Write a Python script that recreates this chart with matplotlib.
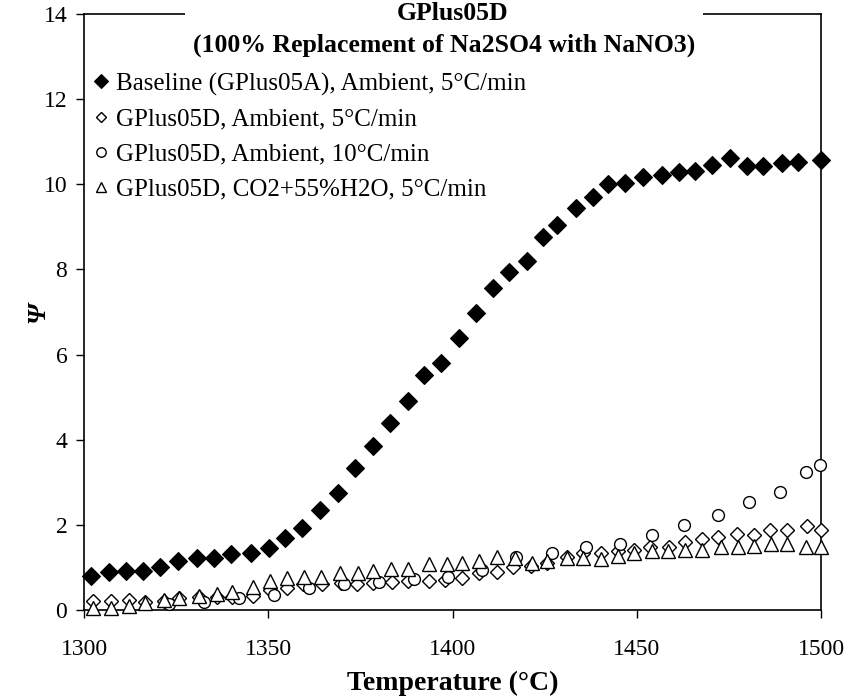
import matplotlib
matplotlib.use("Agg")
import matplotlib.pyplot as plt
from matplotlib.patches import Rectangle

plt.rcParams['font.family'] = ['Liberation Serif', 'DejaVu Serif']

# ---- data ----
base_T = [1301.8, 1306.9, 1311.4, 1316.1, 1320.6, 1325.6, 1330.6, 1335.3, 1339.8, 1345.2,
          1350.1, 1354.6, 1359.1, 1364.0, 1369.0, 1373.5, 1378.5, 1383.0, 1387.8, 1392.4,
          1396.9, 1401.8, 1406.4, 1410.9, 1415.2, 1420.2, 1424.5, 1428.4, 1433.5, 1438.0,
          1442.3, 1446.8, 1451.8, 1456.9, 1461.5, 1465.8, 1470.3, 1475.3, 1479.8, 1484.3,
          1489.3, 1493.8, 1499.9]
base_psi = [0.79, 0.89, 0.91, 0.92, 1.01, 1.14, 1.23, 1.23, 1.32, 1.34,
            1.46, 1.69, 1.93, 2.36, 2.75, 3.34, 3.85, 4.39, 4.90, 5.53,
            5.81, 6.39, 6.98, 7.57, 7.95, 8.19, 8.76, 9.05, 9.44, 9.71,
            10.00, 10.03, 10.18, 10.22, 10.30, 10.32, 10.46, 10.61, 10.43, 10.43,
            10.50, 10.52, 10.56]

d5_T = [1302.4, 1307.4, 1312.1, 1316.6, 1321.6, 1325.7, 1331.1, 1336.1, 1340.2, 1345.8,
        1350.6, 1355.0, 1359.5, 1364.5, 1369.7, 1374.0, 1378.5, 1383.5, 1388.0, 1393.5,
        1398.0, 1402.5, 1407.3, 1412.2, 1416.5, 1421.2, 1425.6, 1431.0, 1435.5, 1440.2,
        1445.0, 1449.3, 1453.6, 1458.8, 1463.1, 1467.6, 1472.1, 1477.1, 1481.9, 1486.2,
        1490.7, 1496.1, 1499.9]
d5_psi = [0.22, 0.22, 0.23, 0.18, 0.22, 0.29, 0.30, 0.31, 0.31, 0.33,
          0.47, 0.52, 0.60, 0.60, 0.63, 0.60, 0.63, 0.66, 0.68, 0.68,
          0.70, 0.74, 0.86, 0.90, 1.00, 1.03, 1.11, 1.24, 1.33, 1.33,
          1.39, 1.42, 1.49, 1.49, 1.60, 1.66, 1.72, 1.78, 1.76, 1.88,
          1.88, 1.97, 1.88]

d10_T = [1323.2, 1332.7, 1342.1, 1351.6, 1361.1, 1370.6, 1380.1, 1389.6, 1398.9, 1408.0,
         1417.3, 1427.0, 1436.3, 1445.4, 1454.2, 1462.9, 1472.0, 1480.5, 1488.9, 1495.8,
         1499.7]
d10_psi = [0.13, 0.19, 0.28, 0.36, 0.52, 0.60, 0.65, 0.73, 0.78, 0.95,
           1.24, 1.33, 1.47, 1.55, 1.76, 2.00, 2.23, 2.54, 2.77, 3.24,
           3.40]

co2_T = [1302.4, 1307.4, 1312.1, 1316.6, 1321.6, 1325.7, 1331.1, 1336.1, 1340.2, 1345.8,
         1350.6, 1355.0, 1359.8, 1364.3, 1369.5, 1374.3, 1378.5, 1383.3, 1388.0, 1393.5,
         1398.4, 1402.7, 1407.3, 1412.2, 1417.0, 1421.5, 1425.6, 1431.0, 1435.5, 1440.2,
         1445.0, 1449.3, 1454.2, 1458.6, 1463.1, 1467.8, 1472.9, 1477.4, 1481.9, 1486.4,
         1490.7, 1495.8, 1499.9]
co2_psi = [0.04, 0.04, 0.09, 0.16, 0.23, 0.29, 0.34, 0.37, 0.42, 0.53,
           0.69, 0.76, 0.78, 0.78, 0.86, 0.86, 0.92, 0.96, 0.96, 1.07,
           1.07, 1.11, 1.16, 1.24, 1.21, 1.11, 1.16, 1.21, 1.21, 1.19,
           1.27, 1.33, 1.39, 1.39, 1.41, 1.41, 1.47, 1.49, 1.50, 1.55,
           1.56, 1.49, 1.49]

labels = ["Baseline (GPlus05A), Ambient, 5\u00b0C/min",
          "GPlus05D, Ambient, 5\u00b0C/min",
          "GPlus05D, Ambient, 10\u00b0C/min",
          "GPlus05D, CO2+55%H2O, 5\u00b0C/min"]
title_lines = ["GPlus05D", "(100% Replacement of Na2SO4 with NaNO3)"]
x_ticks = [1300, 1350, 1400, 1450, 1500]
y_ticks = [0, 2, 4, 6, 8, 10, 12, 14]

# ---- figure ----
fig = plt.figure(figsize=(8.5, 7.0), dpi=100)
ax = fig.add_axes([84 / 850, 90 / 700, 737 / 850, 596 / 700])

ax.plot(base_T, base_psi, linestyle='none', marker='D', ms=9.5, mfc='black', mec='black',
        mew=0.8, label=labels[0], clip_on=False, zorder=3)
ax.plot(d5_T, d5_psi, linestyle='none', marker='D', ms=7, mfc='white', mec='black',
        mew=1.0, label=labels[1], clip_on=False, zorder=4)
ax.plot(d10_T, d10_psi, linestyle='none', marker='o', ms=8.5, mfc='white', mec='black',
        mew=1.0, label=labels[2], clip_on=False, zorder=5)
ax.plot(co2_T, co2_psi, linestyle='none', marker='^', ms=9.5, mfc='white', mec='black',
        mew=1.0, label=labels[3], clip_on=False, zorder=6)

ax.set_xlim(1300, 1500)
ax.set_ylim(0, 14)
ax.set_xticks(x_ticks)
ax.set_yticks(y_ticks)
ax.tick_params(axis='both', direction='out', length=6, width=1.0, labelsize=17,
               top=False, right=False, pad=6)
ax.tick_params(axis='x', pad=15)
for s in ax.spines.values():
    s.set_linewidth(1.2)
    s.set_color('black')

ax.set_xlabel("Temperature (\u00b0C)", fontsize=20, fontweight='bold', labelpad=8)
ax.set_ylabel("\u03a8", fontsize=19, fontweight='bold', fontstyle='italic', labelpad=-4)

leg = ax.legend(loc='upper left', bbox_to_anchor=(0.013, 0.902), frameon=False,
                fontsize=18, handlelength=0.6, handletextpad=0.3, labelspacing=0.5,
                markerscale=0.8, borderaxespad=0.0, borderpad=0.0)

# title box covering the top spine
fig.add_artist(Rectangle((185 / 850, 636 / 700), (703 - 185) / 850, 64 / 700,
                         transform=fig.transFigure, facecolor='white', edgecolor='none',
                         zorder=5))
fig.text(453 / 850, 1 - 14 / 700, title_lines[0], ha='center', va='center',
         fontsize=18.5, fontweight='bold', zorder=6)
fig.text(444 / 850, 1 - 45 / 700, title_lines[1], ha='center', va='center',
         fontsize=18.5, fontweight='bold', zorder=6)

fig.savefig("out.png", dpi=100)
